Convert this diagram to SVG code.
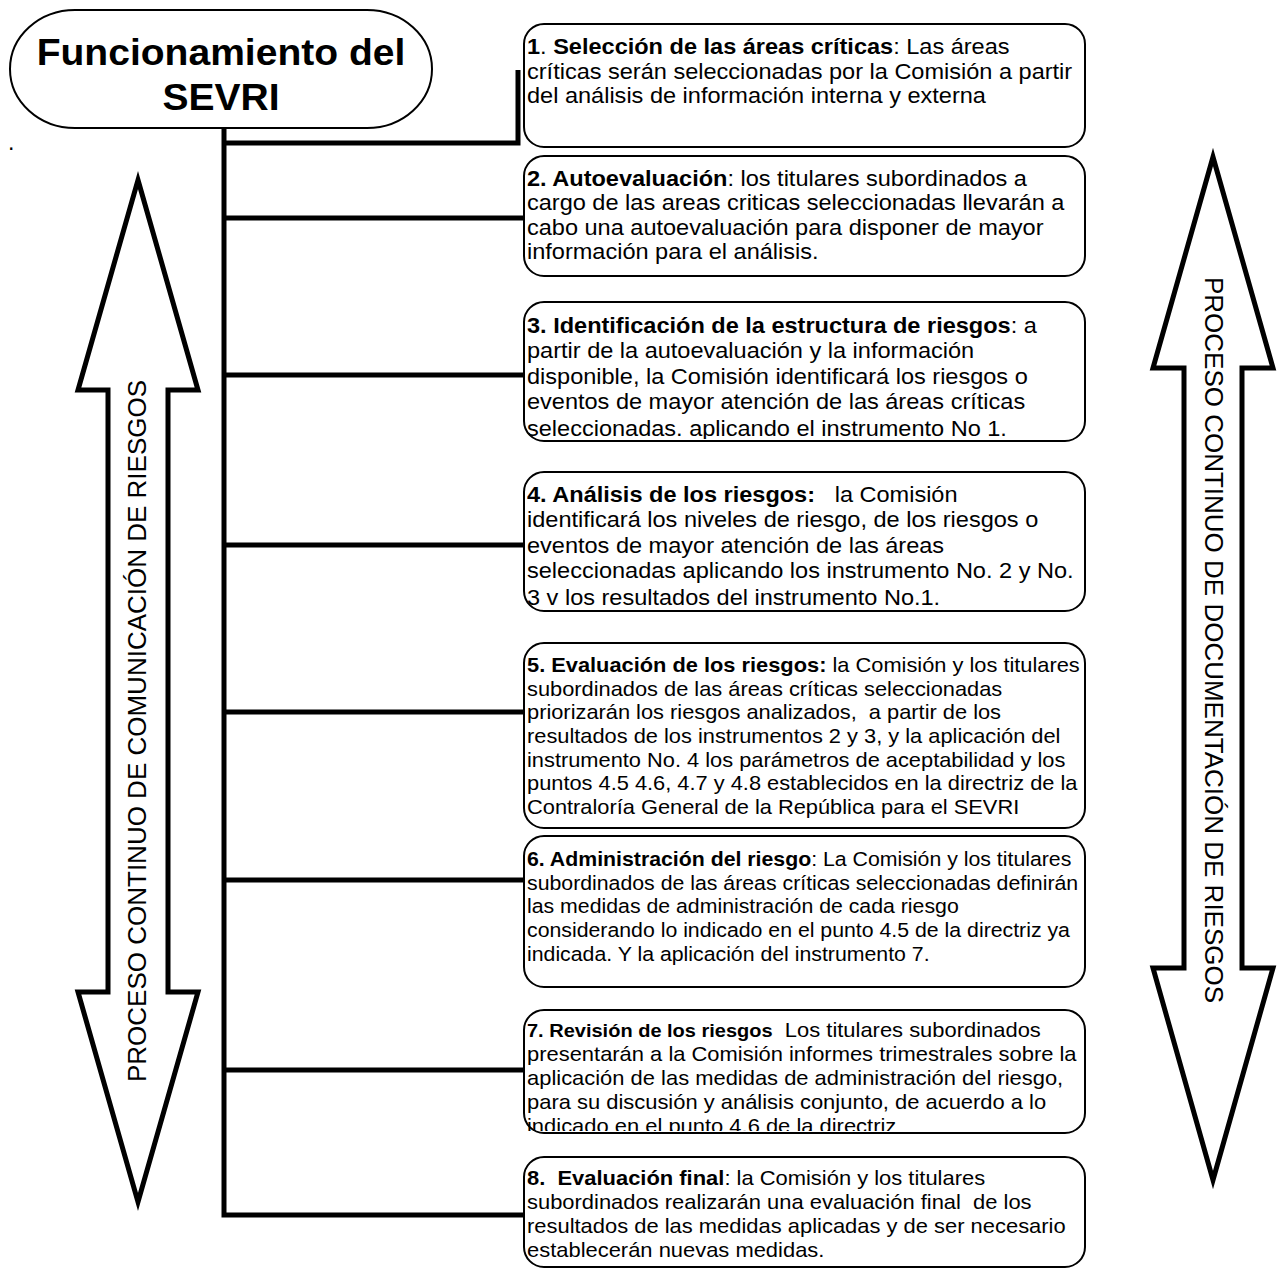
<svg xmlns="http://www.w3.org/2000/svg" width="1279" height="1269" viewBox="0 0 1279 1269">
<style>
text{font-family:"Liberation Sans",Arial,sans-serif;fill:#000;white-space:pre}
.b{font-weight:bold}
.box{fill:#fff;stroke:#000;stroke-width:2}
.conn{fill:none;stroke:#000;stroke-width:5}
.arrow{fill:#fff;stroke:#000;stroke-width:5;stroke-linejoin:miter}
.t1{font-size:22px}
.t5{font-size:20.4px}
.t6{font-size:19.9px}
.t2{font-size:20.5px}
</style>
<defs>
<clipPath id="c3"><rect x="0" y="302" width="530" height="137"/></clipPath>
<clipPath id="c4"><rect x="0" y="472" width="530" height="137"/></clipPath>
<clipPath id="c7"><rect x="0" y="1010" width="530" height="121"/></clipPath>
</defs>
<rect width="1279" height="1269" fill="#fff"/>

<g id="arrow-left">
<polygon class="arrow" points="138,180 198,390 168,390 168,992 198,992 138,1202 78,992 108,992 108,390 78,390"/>
<text transform="translate(146,731) rotate(-90)" text-anchor="middle" font-size="26">PROCESO CONTINUO DE COMUNICACIÓN DE RIESGOS</text>
</g>
<g id="arrow-right">
<polygon class="arrow" points="1213,157 1273,368 1242,368 1242,968 1273,968 1213,1180 1153,968 1184,968 1184,368 1153,368"/>
<text transform="translate(1205,640) rotate(90)" text-anchor="middle" font-size="26">PROCESO CONTINUO DE DOCUMENTACIÓN DE RIESGOS</text>
</g>

<g id="connectors">
<path class="conn" d="M224,128 V1215 H524"/>
<path class="conn" d="M224,143 H518 V70"/>
<path class="conn" d="M224,218 H524"/>
<path class="conn" d="M224,375 H524"/>
<path class="conn" d="M224,545 H524"/>
<path class="conn" d="M224,712 H524"/>
<path class="conn" d="M224,880 H524"/>
<path class="conn" d="M224,1070 H524"/>
</g>

<g id="title">
<rect class="box" x="10" y="10" width="422" height="118" rx="65" ry="59"/>
<g transform="translate(221,0) scale(1.07,1)">
<text class="b" x="0" y="65" text-anchor="middle" font-size="36.5">Funcionamiento del</text>
<text class="b" x="0" y="110" text-anchor="middle" font-size="36.5">SEVRI</text>
</g>
</g>
<text x="8" y="150" font-size="23">.</text>

<g id="box1">
<rect class="box" x="524" y="24" width="561" height="123" rx="20"/>
<g transform="translate(527,0) scale(1.07,1)">
<text class="t1" x="0" y="54.5"><tspan class="b">1</tspan>. <tspan class="b">Selección de las áreas críticas</tspan>: Las áreas</text>
<text class="t1" x="0" y="79">críticas serán seleccionadas por la Comisión a partir</text>
<text class="t1" x="0" y="103.5">del análisis de información interna y externa</text>
</g>
</g>

<g id="box2">
<rect class="box" x="524" y="156" width="561" height="120" rx="20"/>
<g transform="translate(527,0) scale(1.07,1)">
<text class="t1" x="0" y="186"><tspan class="b">2. Autoevaluación</tspan>: los titulares subordinados a</text>
<text class="t1" x="0" y="210.5">cargo de las areas criticas seleccionadas llevarán a</text>
<text class="t1" x="0" y="235">cabo una autoevaluación para disponer de mayor</text>
<text class="t1" x="0" y="259.5">información para el análisis.</text>
</g>
</g>

<g id="box3">
<rect class="box" x="524" y="302" width="561" height="139" rx="20"/>
<g transform="translate(527,0) scale(1.07,1)">
<g clip-path="url(#c3)">
<text class="t1" x="0" y="333"><tspan class="b">3. Identificación de la estructura de riesgos</tspan>: a</text>
<text class="t1" x="0" y="358.5">partir de la autoevaluación y la información</text>
<text class="t1" x="0" y="384">disponible, la Comisión identificará los riesgos o</text>
<text class="t1" x="0" y="409.5">eventos de mayor atención de las áreas críticas</text>
<text class="t1" x="0" y="436">seleccionadas. aplicando el instrumento No 1.</text>
</g>
</g>
</g>

<g id="box4">
<rect class="box" x="524" y="472" width="561" height="139" rx="20"/>
<g transform="translate(527,0) scale(1.07,1)">
<g clip-path="url(#c4)">
<text class="t1" x="0" y="502"><tspan class="b">4. Análisis de los riesgos:</tspan>   la Comisión</text>
<text class="t1" x="0" y="527.5">identificará los niveles de riesgo, de los riesgos o</text>
<text class="t1" x="0" y="553">eventos de mayor atención de las áreas</text>
<text class="t1" x="0" y="578.5">seleccionadas aplicando los instrumento No. 2 y No.</text>
<text class="t1" x="0" y="605">3 v los resultados del instrumento No.1.</text>
</g>
</g>
</g>

<g id="box5">
<rect class="box" x="524" y="643" width="561" height="185" rx="20"/>
<g transform="translate(527,0) scale(1.07,1)">
<text class="t5" x="0" y="672"><tspan class="b">5. Evaluación de los riesgos:</tspan> la Comisión y los titulares</text>
<text class="t5" x="0" y="695.7">subordinados de las áreas críticas seleccionadas</text>
<text class="t5" x="0" y="719.4">priorizarán los riesgos analizados,  a partir de los</text>
<text class="t5" x="0" y="743.1">resultados de los instrumentos 2 y 3, y la aplicación del</text>
<text class="t5" x="0" y="766.8">instrumento No. 4 los parámetros de aceptabilidad y los</text>
<text class="t5" x="0" y="790.5">puntos 4.5 4.6, 4.7 y 4.8 establecidos en la directriz de la</text>
<text class="t5" x="0" y="814.2">Contraloría General de la República para el SEVRI</text>
</g>
</g>

<g id="box6">
<rect class="box" x="524" y="836" width="561" height="151" rx="20"/>
<g transform="translate(527,0) scale(1.07,1)">
<text class="t6" x="0" y="866"><tspan class="b">6. Administración del riesgo</tspan>: La Comisión y los titulares</text>
<text class="t6" x="0" y="889.7">subordinados de las áreas críticas seleccionadas definirán</text>
<text class="t6" x="0" y="913.4">las medidas de administración de cada riesgo</text>
<text class="t6" x="0" y="937.1">considerando lo indicado en el punto 4.5 de la directriz ya</text>
<text class="t6" x="0" y="960.8">indicada. Y la aplicación del instrumento 7.</text>
</g>
</g>

<g id="box7">
<rect class="box" x="524" y="1010" width="561" height="123" rx="20"/>
<g transform="translate(527,0) scale(1.07,1)">
<g clip-path="url(#c7)">
<text class="t2" x="0" y="1037"><tspan class="b" font-size="18.7">7. Revisión de los riesgos</tspan>  Los titulares subordinados</text>
<text class="t2" x="0" y="1061">presentarán a la Comisión informes trimestrales sobre la</text>
<text class="t2" x="0" y="1085">aplicación de las medidas de administración del riesgo,</text>
<text class="t2" x="0" y="1109">para su discusión y análisis conjunto, de acuerdo a lo</text>
<text class="t2" x="0" y="1133">indicado en el punto 4.6 de la directriz</text>
</g>
</g>
</g>

<g id="box8">
<rect class="box" x="524" y="1157" width="561" height="110" rx="20"/>
<g transform="translate(527,0) scale(1.07,1)">
<text class="t2" x="0" y="1185"><tspan class="b">8.  Evaluación final</tspan>: la Comisión y los titulares</text>
<text class="t2" x="0" y="1209">subordinados realizarán una evaluación final  de los</text>
<text class="t2" x="0" y="1233">resultados de las medidas aplicadas y de ser necesario</text>
<text class="t2" x="0" y="1257">establecerán nuevas medidas.</text>
</g>
</g>
</svg>
